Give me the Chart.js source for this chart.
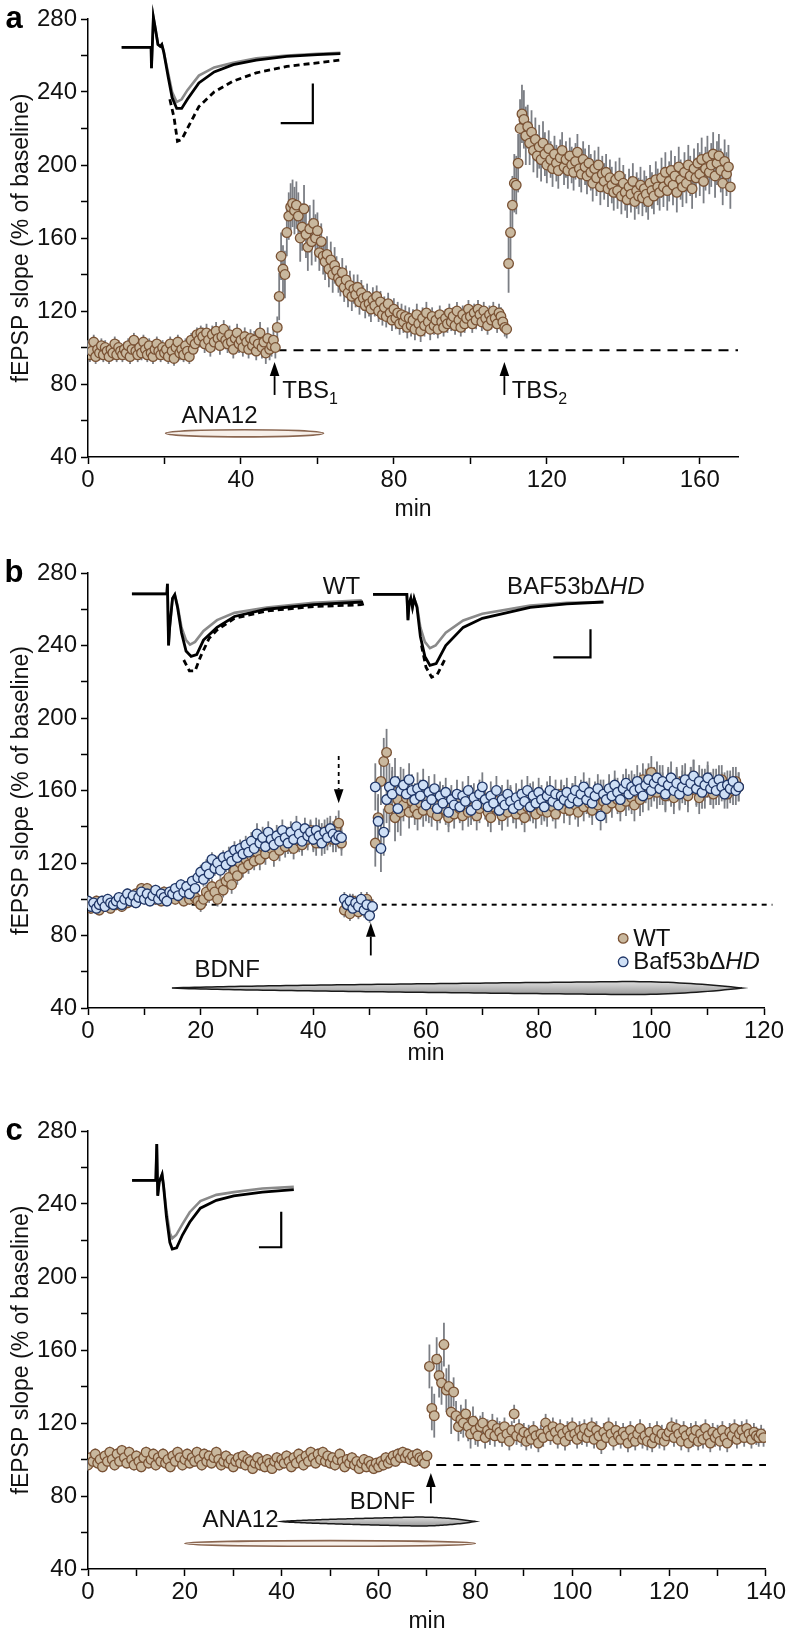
<!DOCTYPE html>
<html><head><meta charset="utf-8">
<script src="https://cdn.jsdelivr.net/npm/chart.js@4.4.0/dist/chart.umd.min.js"></script>
<style>
html,body{margin:0;padding:0;background:#fff;}
#wrap{position:relative;width:788px;height:1639px;overflow:hidden;}
canvas{position:absolute;left:0;}
</style></head><body>
<div id="wrap">
<canvas id="ca" width="788" height="540" style="top:0px"></canvas>
<canvas id="cb" width="788" height="550" style="top:540px"></canvas>
<canvas id="cc" width="788" height="549" style="top:1090px"></canvas>
</div>
<script>
// ================= DATA =================
const STEP = 0.5; // minutes between samples
// ---- panel a ----
const aStart1 = 0, aStart2 = 50, aStart3 = 110;
const aSeg1 = [100,96,98,103,95,99,97,101,96,100,98,95,99,97,102,96,100,98,96,99,
 97,101,95,99,104,98,96,100,97,103,99,96,101,97,95,99,102,98,96,100,
 97,99,95,102,98,94,100,103,97,99,96,101,98,95,104,99,102,107,104,108,
 106,102,108,104,100,107,103,109,105,101,106,110,104,102,107,103,99,105,108,102,
 104,100,106,103,99,105,101,104,98,102,108,100,103,97,105,99,101,104,100,111];
const aSeg2 = [128,150,143,140,163,172,177,179,175,178,
 172,160,166,176,162,155,165,158,168,160,
 164,152,158,150,147,151,143,148,140,145,
 142,138,136,141,133,137,130,134,128,132,
 129,133,125,130,127,123,128,124,121,126,
 123,128,120,125,118,122,117,124,119,115,
 121,116,119,113,118,114,117,111,116,112,
 115,110,118,113,109,116,112,119,114,110,
 117,112,115,110,118,114,111,116,113,119,
 114,117,112,120,115,111,118,113,116,121,
 117,113,119,115,121,118,114,120,116,112,
 118,115,120,116,113,119,117,114,111,110];
const aSeg3 = [146,163,178,190,189,201,220,228,225,216,
 221,212,218,208,214,205,210,203,212,206,
 200,209,203,198,206,201,197,204,208,199,
 203,197,205,200,196,202,207,198,195,203,
 199,194,201,196,190,198,193,200,188,195,
 191,196,187,193,189,185,192,186,194,183,
 190,185,181,188,184,191,180,186,183,189,
 182,187,184,180,190,186,183,192,188,185,
 193,188,196,186,191,197,189,194,185,199,
 192,188,196,190,200,194,187,198,193,201,
 195,203,191,198,204,196,200,206,194,201,
 205,197,190,202,195,199,188];
// SEM, one value per 10 samples
const aErr1 = [4,4,4,4,4,4,5,5,5,6];
const aErr2 = [13,13,10,8,7,6,6,6,5,5,5,5];
const aErr3 = [16,12,10,10,10,10,10,10,11,11,12,12];

// ---- panel b ----
const bStart1 = 0, bStart2 = 45.5, bStart3 = 51;
const bWT1 = [98,95,97,99,94,97,96,99,95,98,
 97,99,96,100,98,101,99,103,100,106,
 104,106,101,103,100,102,99,104,101,103,
 102,100,104,101,99,103,100,106,101,99,
 97,100,104,102,107,104,100,108,105,110,
 112,108,116,113,120,117,122,119,124,121,
 126,122,129,125,131,128,124,130,127,132,
 129,134,131,128,135,132,130,136,133,138,
 134,131,137,135,132,138,136,133,139,142,
 131];
const bKO1 = [99,96,98,95,97,99,96,100,98,97,
 99,101,97,100,103,99,102,98,101,104,
 100,103,99,102,105,100,103,101,99,104,
 103,106,102,108,104,107,103,110,106,112,
 115,111,118,114,122,117,120,116,123,119,
 124,121,127,123,128,125,130,126,132,128,
 136,131,134,129,137,133,130,135,132,138,
 134,131,137,133,140,136,132,139,135,137,
 133,138,135,131,137,134,139,136,133,135,
 134];
const bWT2 = [94,97,92,99,96,93,98,95,100,97,96];
const bKO2 = [100,97,99,95,98,96,100,94,97,91,96];
const bWT3 = [131,145,165,176,181,150,160,145,155,148,
 152,156,148,154,150,147,153,149,155,151,
 148,152,146,150,155,149,145,151,147,153,
 150,146,152,148,155,151,146,150,156,152,
 148,145,151,154,149,146,152,148,155,150,
 147,153,149,145,151,156,150,147,153,149,
 152,148,155,151,147,153,158,150,154,149,
 156,152,148,155,151,157,153,149,156,152,
 158,154,150,157,153,159,155,151,158,154,
 160,156,152,159,155,166,162,158,170,163,
 159,165,161,157,164,160,156,163,159,165,
 161,157,164,168,160,156,163,159,165,161,
 158,164,160,166,162,158,163,160,165,162];
const bKO3 = [162,143,128,137,155,162,158,165,150,160,
 163,158,166,160,155,161,157,163,152,159,
 155,161,150,157,153,159,148,155,152,158,
 151,157,154,160,149,156,152,158,162,155,
 151,157,153,160,149,155,152,158,154,150,
 156,152,158,154,160,151,157,153,159,155,
 151,157,160,154,158,152,157,155,159,153,
 156,160,154,158,162,155,159,153,157,161,
 146,158,155,161,157,163,159,155,161,164,
 158,162,160,165,161,157,163,166,160,164,
 167,161,165,158,163,167,160,164,158,162,
 166,160,164,168,161,165,159,163,167,161,
 164,160,166,162,158,163,161,165,160,162];
const bErr1 = [3,3,3,3,4,5,6,6,7,7];
const bErr2 = [4,4];
const bErr3 = [13,9,8,8,8,8,8,8,8,9,9,9,8];

// ---- panel c ----
const cStart1 = 0, cStart2 = 70.5;
const cSeg1 = [97,101,99,103,98,100,96,102,99,104,
 100,97,103,99,105,101,98,104,100,97,
 102,99,96,101,104,98,100,103,97,101,
 99,103,98,100,96,102,99,104,101,97,
 100,103,98,101,99,104,100,97,103,99,
 102,98,101,104,100,97,99,102,98,100,
 96,99,101,98,102,97,100,99,95,98,
 101,97,99,96,100,98,95,99,101,97,
 100,98,102,99,96,101,98,103,100,97,
 102,99,104,101,98,103,100,104,99,102,
 98,101,97,100,103,99,96,100,98,101,
 97,99,95,98,100,96,99,97,95,98,
 96,99,97,101,98,100,102,99,103,101,
 104,101,103,100,102,99,103,101,100,98,
 102];
const cSeg2 = [151,128,124,155,146,142,163,138,140,
 126,137,124,118,122,120,125,118,114,121,
 116,113,118,120,112,116,114,119,113,117,
 115,112,118,114,110,116,125,113,117,112,
 115,110,114,111,116,113,109,114,112,120,
 116,113,118,115,111,117,114,110,116,113,
 118,114,111,116,113,117,112,115,118,111,
 116,113,108,115,112,118,114,110,116,113,
 111,115,113,109,116,112,110,114,117,111,
 113,110,115,109,112,116,111,114,110,113,
 115,118,112,117,114,110,116,113,109,115,
 112,116,110,114,111,117,113,109,115,112,
 114,110,116,112,109,115,113,117,111,114,
 116,112,117,114,111,115,113,112,114,112];
const cErr1 = [3,3,3,3,3,3,3,3,3,3,3,3,3,3,3];
const cErr2 = [12,8,6,5,5,5,5,5,5,5,5,5,5,5];

// ---- inset sample traces [min, %] ----
const aTrGray  = [[8.8,264.5],[16.5,264.5],[16.6,253],[16.8,264],[17.1,281],[17.6,275],[18.3,266],[18.9,265],[19.3,266],[19.8,262],[21,250],[22,240],[23.2,234.5],[24.5,236],[26,241],[29,249],[33,253.5],[38,256],[44,258.5],[52,260],[60,261],[66,261.5]];
const aTrBlack = [[8.8,264.5],[16.5,264.5],[16.6,253],[16.8,264],[17.1,281],[17.6,275],[18.3,266],[18.9,265],[19.3,266],[19.8,262],[21,248],[22,237],[23.2,231],[24.5,231],[26,236],[29,245],[33,251],[38,255],[44,257.5],[52,259.5],[60,260.5],[66,261]];
const aTrDash  = [[21.4,236],[22.5,226],[23.4,213],[24.5,214],[26,220],[29,232],[33,240],[38,246],[44,250.5],[52,254],[60,256],[66,257.5]];
const aBar     = [[50.4,223],[58.8,223],[58.8,244.7]];

const bWtGray  = [[7.8,268.5],[14,268.5],[14.1,274],[14.3,240],[14.5,250],[15.0,266],[15.4,268],[15.9,262],[16.6,250],[17.4,243],[18.1,240.5],[19,242],[20.5,248],[22.9,254],[26,258],[31.7,261],[40,263.5],[48.6,265]];
const bWtBlack = [[7.8,268.5],[14,268.5],[14.1,274],[14.3,240],[14.5,250],[15.0,266],[15.4,268],[15.9,261],[16.6,247],[17.4,237],[18.3,234],[19.3,235],[20.5,243],[22.9,250],[26,256],[31.7,260],[40,262.5],[48.6,264],[48.8,262]];
const bWtDash  = [[17.0,232],[18.0,226],[19.0,226],[20,234],[21.5,244],[22.9,248.5],[26,255],[31.7,259],[40,261.5],[48.6,262.5]];
const bKoGray  = [[50.6,268.2],[56.6,268.2],[56.8,254],[57.0,263],[57.3,266],[57.6,261],[57.9,266],[58.4,262],[59,250],[59.8,242],[60.7,238.5],[61.7,240],[63.5,247],[66.6,253.8],[70,257.5],[78.5,262],[85,263.5],[91.5,264]];
const bKoBlack = [[50.6,268.2],[56.6,268.2],[56.8,254],[57.0,263],[57.3,266],[57.6,261],[57.9,266],[58.4,261],[59,245],[59.8,234],[60.7,229],[61.8,230],[63.5,240],[66.6,250],[70,255],[78.5,261],[85,263],[91.5,264]];
const bKoDash  = [[59.2,240],[60,228],[61,222.5],[62,224],[63.3,232]];
const bBar     = [[82.6,233.5],[89.2,233.5],[89.2,249]];

const cTrGray  = [[9.1,252.9],[13.7,252.9],[14.0,253],[14.2,272.8],[14.4,244.5],[14.7,252],[15.3,256.2],[15.6,250],[16.2,236],[16.9,224],[17.4,221.2],[18.2,223],[19.5,229],[21,235.5],[23.2,241.6],[26.5,245],[30.1,246.5],[36,248.5],[42.5,249.4]];
const cTrBlack = [[9.1,252.9],[13.7,252.9],[14.0,253],[14.2,272.8],[14.4,244.5],[14.7,252],[15.3,256.2],[15.6,250],[16.2,233],[16.9,219],[17.4,215.3],[18.3,216],[19.5,223],[21,230],[23.2,237.7],[26.5,242],[30.1,244.5],[36,246.5],[42.5,247.9]];
const cBar     = [[35.3,216.3],[39.9,216.3],[39.9,235.8]];

// ---- baselines, tick labels ----
const aBaseline = [[49.3,98.5],[170,98.5]];
const bBaseline = [[18.4,97],[121.5,97]];
const cBaseline = [[68.4,97],[140,97]];
const yTickLabels = [40,80,120,160,200,240,280];
const aXTickLabels = [0,40,80,120,160];
const bXTickLabels = [0,20,40,60,80,100,120];
const cXTickLabels = [0,20,40,60,80,100,120,140];
const seriesNames = ['WT','Baf53b\u0394HD'];

// ================= HELPERS =================
const FONT = '"Liberation Sans", Arial, Helvetica, sans-serif';
Chart.defaults.font.family = FONT;
Chart.defaults.font.size = 24;
Chart.defaults.color = '#111';

function series(start, vals){ return vals.map((v,i)=>({x:start+i*STEP, y:v})); }
function semFor(blocks, n){ return Array.from({length:n},(_,i)=>blocks[Math.floor(i/10)]); }
function pts(arr){ return arr.map(p=>({x:p[0], y:p[1]})); }

const WT_FILL='#c9b89e', WT_EDGE='#7a5234', KO_FILL='#cfe0f6', KO_EDGE='#1f3566';

function scatterDs(label, data, errors, fill, edge, order){
  return {label, data, errors, type:'scatter', showLine:false, order,
    backgroundColor:fill, borderColor:edge, pointRadius:4.8, pointHoverRadius:4.8,
    pointBorderWidth:1.3, pointBackgroundColor:fill, pointBorderColor:edge};
}
function lineDs(data, color, width, dash, order){
  return {type:'line', showLine:true, data:pts(data), borderColor:color, borderWidth:width,
    borderDash:dash||[], pointRadius:0, fill:false, tension:0, order, clip:false};
}

function drawParts(ctx, parts, x, y, align, size){
  const base = size||24, subS = Math.round(base*0.66);
  const fontOf = p => (p.italic?'italic ':'') + (p.sub?subS:base) + 'px ' + FONT;
  let w = 0;
  parts.forEach(p=>{ ctx.font=fontOf(p); w += ctx.measureText(p.t).width; });
  let cx = align==='center' ? x-w/2 : (align==='right' ? x-w : x);
  ctx.textAlign='left'; ctx.textBaseline='alphabetic'; ctx.fillStyle='#111';
  parts.forEach(p=>{ ctx.font=fontOf(p); ctx.fillText(p.t, cx, y+base*0.36+(p.sub?6:0)); cx += ctx.measureText(p.t).width; });
}
function arrow(ctx, x, y0, y1, dashed){
  const dir = Math.sign(y1-y0), hl=14, hw=4.8;
  ctx.save(); ctx.strokeStyle='#000'; ctx.fillStyle='#000'; ctx.lineWidth=1.8;
  if(dashed) ctx.setLineDash([4,4]);
  ctx.beginPath(); ctx.moveTo(x,y0); ctx.lineTo(x,y1-dir*hl); ctx.stroke();
  ctx.setLineDash([]);
  ctx.beginPath(); ctx.moveTo(x,y1); ctx.lineTo(x-hw,y1-dir*hl); ctx.lineTo(x+hw,y1-dir*hl); ctx.closePath(); ctx.fill();
  ctx.restore();
}
function spindle(ctx, x1, x2, y, H, peak, fillTop, fillBot, stroke){
  const N=100, top=[], bot=[];
  for(let i=0;i<=N;i++){
    const t=i/N; let h;
    if(t<peak) h = H*Math.pow(t/peak,0.7);
    else { const s=(t-peak)/(1-peak); h = H*(1-s*s); }
    const x = x1+(x2-x1)*t; top.push([x,y-h]); bot.push([x,y+h]);
  }
  ctx.save();
  const g = ctx.createLinearGradient(0,y-H,0,y+H); g.addColorStop(0,fillTop); g.addColorStop(1,fillBot);
  ctx.beginPath(); ctx.moveTo(x1,y);
  top.forEach(p=>ctx.lineTo(p[0],p[1]));
  for(let i=bot.length-1;i>=0;i--) ctx.lineTo(bot[i][0],bot[i][1]);
  ctx.closePath(); ctx.fillStyle=g; ctx.fill(); ctx.lineWidth=1.5; ctx.strokeStyle=stroke; ctx.stroke();
  ctx.restore();
}

function decoPlugin(spec){
  return {
    id:'deco',
    beforeDatasetsDraw(chart){
      const ctx=chart.ctx, xs=chart.scales.x, ys=chart.scales.y;
      (spec.ellipses||[]).forEach(e=>{
        const a=xs.getPixelForValue(e.x1), b=xs.getPixelForValue(e.x2), y=ys.getPixelForValue(e.y);
        ctx.save(); ctx.beginPath(); ctx.ellipse((a+b)/2,y,(b-a)/2,e.ry,0,0,Math.PI*2);
        ctx.fillStyle=e.fill; ctx.fill(); ctx.lineWidth=1.6; ctx.strokeStyle=e.stroke; ctx.stroke(); ctx.restore();
      });
      (spec.spindles||[]).forEach(s=>{
        spindle(ctx, xs.getPixelForValue(s.x1), xs.getPixelForValue(s.x2), ys.getPixelForValue(s.y), s.h, s.peak, '#dedede', '#989898', '#1a1a1a');
      });
      ctx.save(); ctx.strokeStyle='#7b7e84'; ctx.lineWidth=1.8;
      chart.data.datasets.forEach(ds=>{
        if(!ds.errors) return;
        ds.data.forEach((p,i)=>{
          const e=ds.errors[i]; const x=xs.getPixelForValue(p.x);
          ctx.beginPath(); ctx.moveTo(x, ys.getPixelForValue(p.y-e)); ctx.lineTo(x, ys.getPixelForValue(p.y+e)); ctx.stroke();
        });
      });
      ctx.restore();
    },
    afterDraw(chart){
      const ctx=chart.ctx, xs=chart.scales.x, ys=chart.scales.y, ca=chart.chartArea;
      (spec.arrows||[]).forEach(a=>arrow(ctx, xs.getPixelForValue(a.x), ys.getPixelForValue(a.y0), ys.getPixelForValue(a.y1), a.dashed));
      (spec.texts||[]).forEach(t=>drawParts(ctx, t.parts, xs.getPixelForValue(t.x), ys.getPixelForValue(t.y), t.align, 24));
      (spec.legend||[]).forEach(l=>{
        const x=xs.getPixelForValue(l.x), y=ys.getPixelForValue(l.y);
        ctx.save(); ctx.beginPath(); ctx.arc(x,y,4.8,0,Math.PI*2); ctx.fillStyle=l.fill; ctx.fill();
        ctx.lineWidth=1.3; ctx.strokeStyle=l.edge; ctx.stroke(); ctx.restore();
        drawParts(ctx, l.parts, x+10, y-1, 'left', 24);
      });
      ctx.save(); ctx.fillStyle='#111';
      ctx.font='23px '+FONT; ctx.textAlign='center'; ctx.textBaseline='middle';
      ctx.fillText('min', (ca.left+ca.right)/2, ca.bottom+spec.minDy);
      ctx.translate(22,(ca.top+ca.bottom)/2); ctx.rotate(-Math.PI/2);
      ctx.fillText('fEPSP slope (% of baseline)',0,0);
      ctx.restore();
      ctx.save(); ctx.fillStyle='#000'; ctx.font='bold 31px '+FONT; ctx.textAlign='center'; ctx.textBaseline='middle';
      ctx.fillText(spec.letter, 14, ca.top); ctx.restore();
    }
  };
}

function makeChart(id, geo, datasets, xMax, xStep, xLabels, spec){
  const cv=document.getElementById(id);
  return new Chart(cv, {
    type:'scatter',
    data:{datasets},
    options:{
      responsive:false, animation:false, devicePixelRatio:1,
      layout:{padding:{top:geo.top, right:788-geo.right, left:0, bottom:0}},
      plugins:{legend:{display:false}, tooltip:{enabled:false}},
      scales:{
        x:{type:'linear', min:0, max:xMax,
          afterFit(s){ s.height = cv.height - geo.bottom; },
          ticks:{stepSize:xStep, autoSkip:false, maxRotation:0, includeBounds:false, padding:2, color:'#111',
            callback:v=> xLabels.includes(v) ? String(v) : ''},
          grid:{display:true, drawOnChartArea:false, drawTicks:true, tickLength:7, tickWidth:1.5, tickColor:'#000'},
          border:{display:true, color:'#000', width:1.5}},
        y:{type:'linear', min:40, max:280,
          afterFit(s){ s.width = 88; },
          ticks:{stepSize:20, autoSkip:false, includeBounds:false, padding:4, color:'#111',
            callback:v=> yTickLabels.includes(v) ? String(v) : ''},
          grid:{display:true, drawOnChartArea:false, drawTicks:true, tickLength:7, tickWidth:1.5, tickColor:'#000'},
          border:{display:true, color:'#000', width:1.5}}
      }
    },
    plugins:[decoPlugin(spec)]
  });
}

// ================= PANEL A =================
const aData = series(aStart1,aSeg1).concat(series(aStart2,aSeg2), series(aStart3,aSeg3));
const aErr = semFor(aErr1,aSeg1.length).concat(semFor(aErr2,aSeg2.length), semFor(aErr3,aSeg3.length));
makeChart('ca', {top:19, bottom:457, right:738}, [
  lineDs(aTrGray,'#8a8a8a',2.6,null,5),
  lineDs(aTrBlack,'#000',2.8,null,4),
  lineDs(aTrDash,'#000',2.8,[6,4],4),
  lineDs(aBar,'#000',2.2,null,4),
  lineDs(aBaseline,'#000',2,[10,7],6),
  scatterDs('WT', aData, aErr, WT_FILL, WT_EDGE, 1)
], 170, 20, aXTickLabels, {
  letter:'a', minDy:53,
  ellipses:[{x1:20.3, x2:61.6, y:53, ry:3.6, fill:'#f7f0ea', stroke:'#8a6650'}],
  arrows:[{x:48.8,y0:74,y1:92},{x:108.9,y0:74,y1:92}],
  texts:[{x:34.4,y:63.5,align:'center',parts:[{t:'ANA12'}]},
         {x:50.8,y:77,align:'left',parts:[{t:'TBS'},{t:'1',sub:true}]},
         {x:110.8,y:77,align:'left',parts:[{t:'TBS'},{t:'2',sub:true}]}]
});

// ================= PANEL B =================
const bWTData = series(bStart1,bWT1).concat(series(bStart2,bWT2), series(bStart3,bWT3));
const bKOData = series(bStart1,bKO1).concat(series(bStart2,bKO2), series(bStart3,bKO3));
const bErr = semFor(bErr1,bWT1.length).concat(semFor(bErr2,bWT2.length), semFor(bErr3,bWT3.length));
makeChart('cb', {top:33, bottom:468, right:764}, [
  lineDs(bWtGray,'#8a8a8a',2.6,null,5), lineDs(bWtBlack,'#000',2.8,null,4), lineDs(bWtDash,'#000',2.8,[6,4],4),
  lineDs(bKoGray,'#8a8a8a',2.6,null,5), lineDs(bKoBlack,'#000',2.8,null,4), lineDs(bKoDash,'#000',2.8,[6,4],4),
  lineDs(bBar,'#000',2.2,null,4),
  lineDs(bBaseline,'#000',2,[5,5],6),
  scatterDs(seriesNames[1], bKOData, bErr, KO_FILL, KO_EDGE, 1),
  scatterDs(seriesNames[0], bWTData, bErr, WT_FILL, WT_EDGE, 2)
], 120, 10, bXTickLabels, {
  letter:'b', minDy:46,
  spindles:[{x1:14.9, x2:116.1, y:51, h:6.5, peak:0.8}],
  arrows:[{x:44.5,y0:179,y1:153,dashed:true},{x:50.2,y0:69,y1:87}],
  texts:[{x:24.7,y:62,align:'center',parts:[{t:'BDNF'}]},
         {x:48.3,y:273,align:'right',parts:[{t:'WT'}]},
         {x:74.4,y:273,align:'left',parts:[{t:'BAF53b\u0394'},{t:'HD',italic:true}]}],
  legend:[{x:95,y:78.4,fill:WT_FILL,edge:WT_EDGE,parts:[{t:seriesNames[0]}]},
          {x:95,y:65.5,fill:KO_FILL,edge:KO_EDGE,parts:[{t:'Baf53b\u0394'},{t:'HD',italic:true}]}]
});

// ================= PANEL C =================
const cData = series(cStart1,cSeg1).concat(series(cStart2,cSeg2));
const cErr = semFor(cErr1,cSeg1.length).concat(semFor(cErr2,cSeg2.length));
makeChart('cc', {top:41, bottom:479, right:768}, [
  lineDs(cTrGray,'#8a8a8a',2.6,null,5), lineDs(cTrBlack,'#000',2.8,null,4),
  lineDs(cBar,'#000',2.2,null,4),
  lineDs(cBaseline,'#000',2,[10,7],6),
  scatterDs('WT', cData, cErr, WT_FILL, WT_EDGE, 1)
], 140, 10, cXTickLabels, {
  letter:'c', minDy:53,
  ellipses:[{x1:20, x2:80, y:54, ry:2.8, fill:'#f7f0ea', stroke:'#8a6650'}],
  spindles:[{x1:40, x2:80, y:66, h:4.5, peak:0.7}],
  arrows:[{x:70.8,y0:76,y1:92.6}],
  texts:[{x:60.8,y:77.5,align:'center',parts:[{t:'BDNF'}]},
         {x:31.5,y:67.5,align:'center',parts:[{t:'ANA12'}]}]
});
</script>
</body></html>
